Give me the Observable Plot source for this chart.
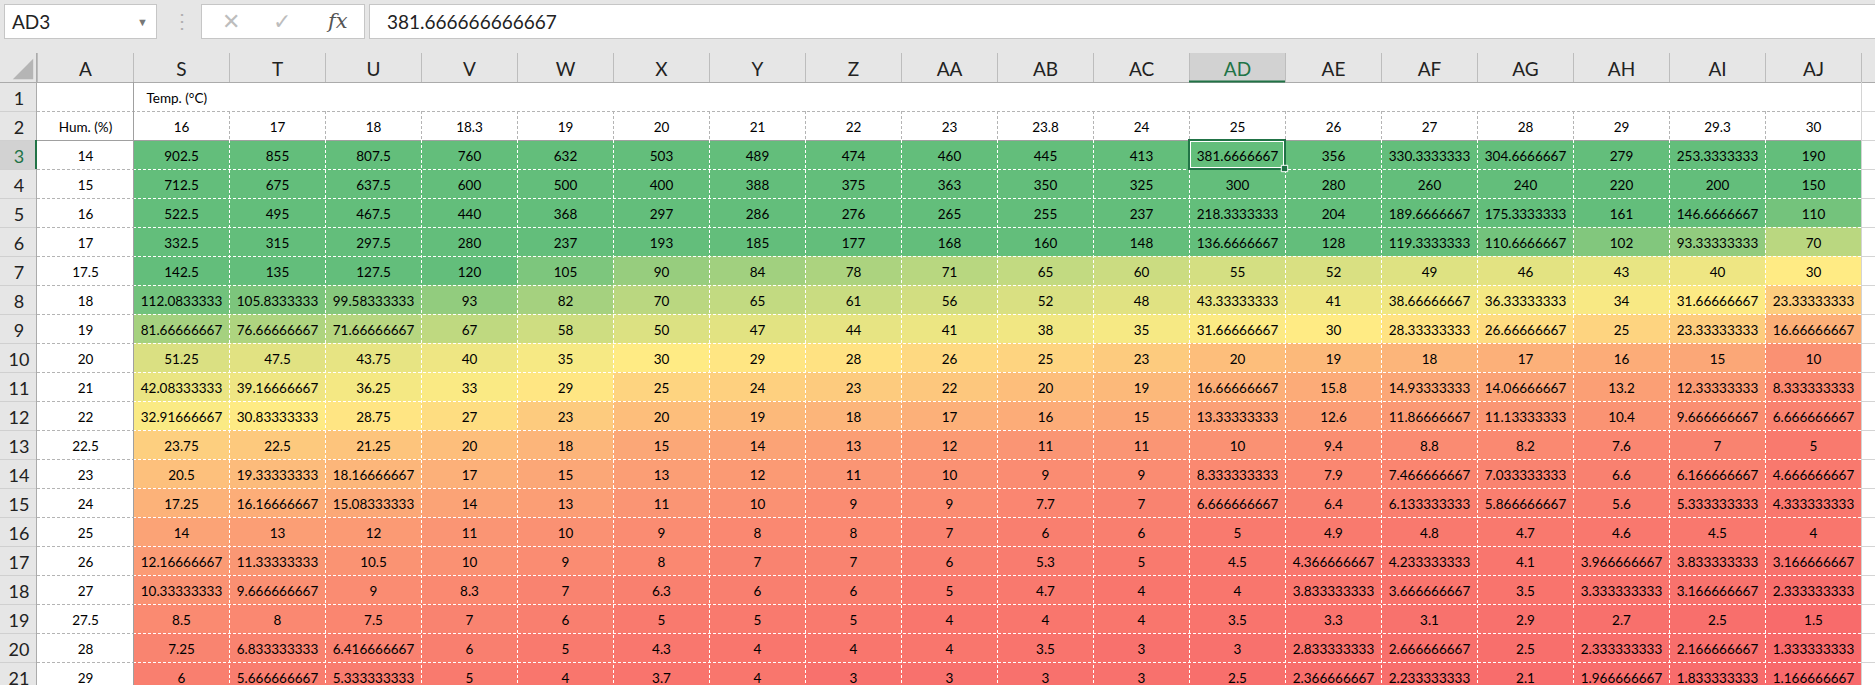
<!DOCTYPE html>
<html>
<head>
<meta charset="utf-8">
<script src="https://cdn.jsdelivr.net/npm/d3@7"></script>
<script src="https://cdn.jsdelivr.net/npm/@observablehq/plot@0.6"></script>
<style>
  html, body { margin: 0; padding: 0; background: #fff; width: 1875px; height: 685px; overflow: hidden; font-family: Lato, "Open Sans", sans-serif; }
  #bar { position: relative; width: 1875px; height: 53px; background: #e6e6e6; overflow: hidden; }
  .box { position: absolute; top: 4px; height: 33px; background: #fff; border: 1px solid #c6c6c6; box-sizing: content-box; }
  .txt { position: absolute; top: 0; line-height: 33px; font-size: 19px; color: #222; white-space: pre; }
  #sheet { display: flex; width: 1875px; }
  #sheet svg { flex: none; overflow: hidden; display: block; }
</style>
</head>
<body>
<div id="bar">
  <div class="box" style="left:4px;width:151px">
    <span class="txt" id="nameBox" style="left:7px"></span>
    <span class="txt" style="left:132px;font-size:11px;color:#777">&#9660;</span>
  </div>
  <span class="txt" style="left:172px;top:4px;font-size:20px;color:#b0b0b0">&#8942;</span>
  <div class="box" style="left:201px;width:162px">
    <span class="txt" style="left:20px;font-size:22px;color:#bdbdbd;font-family:'DejaVu Sans'">&#10005;</span>
    <span class="txt" style="left:71px;font-size:22px;color:#bdbdbd;font-family:'DejaVu Sans'">&#10003;</span>
    <span class="txt" style="left:126px;font-size:21px;color:#555;font-style:italic;font-family:'DejaVu Serif',serif">fx</span>
  </div>
  <div class="box" style="left:369px;width:1520px">
    <span class="txt" id="formula" style="left:17px"></span>
  </div>
</div>
<div id="sheet"></div>
<script>
// ---------- data ----------
const colLetters = ["S","T","U","V","W","X","Y","Z","AA","AB","AC","AD","AE","AF","AG","AH","AI","AJ"];
const temps = ["16","17","18","18.3","19","20","21","22","23","23.8","24","25","26","27","28","29","29.3","30"];
const hums = ["14","15","16","17","17.5","18","19","20","21","22","22.5","23","24","25","26","27","27.5","28","29"];

const h14   = [902.5, 855, 807.5, 760, 632, 503, 489, 474, 460, 445, 413, 381.6666667, 356, 330.3333333, 304.6666667, 279, 253.3333333, 190];
const h15   = [712.5, 675, 637.5, 600, 500, 400, 388, 375, 363, 350, 325, 300, 280, 260, 240, 220, 200, 150];
const h16   = [522.5, 495, 467.5, 440, 368, 297, 286, 276, 265, 255, 237, 218.3333333, 204, 189.6666667, 175.3333333, 161, 146.6666667, 110];
const h17   = [332.5, 315, 297.5, 280, 237, 193, 185, 177, 168, 160, 148, 136.6666667, 128, 119.3333333, 110.6666667, 102, 93.33333333, 70];
const h17_5 = [142.5, 135, 127.5, 120, 105, 90, 84, 78, 71, 65, 60, 55, 52, 49, 46, 43, 40, 30];
const h18   = [112.0833333, 105.8333333, 99.58333333, 93, 82, 70, 65, 61, 56, 52, 48, 43.33333333, 41, 38.66666667, 36.33333333, 34, 31.66666667, 23.33333333];
const h19   = [81.66666667, 76.66666667, 71.66666667, 67, 58, 50, 47, 44, 41, 38, 35, 31.66666667, 30, 28.33333333, 26.66666667, 25, 23.33333333, 16.66666667];
const h20   = [51.25, 47.5, 43.75, 40, 35, 30, 29, 28, 26, 25, 23, 20, 19, 18, 17, 16, 15, 10];
const h21   = [42.08333333, 39.16666667, 36.25, 33, 29, 25, 24, 23, 22, 20, 19, 16.66666667, 15.8, 14.93333333, 14.06666667, 13.2, 12.33333333, 8.333333333];
const h22   = [32.91666667, 30.83333333, 28.75, 27, 23, 20, 19, 18, 17, 16, 15, 13.33333333, 12.6, 11.86666667, 11.13333333, 10.4, 9.666666667, 6.666666667];
const h22_5 = [23.75, 22.5, 21.25, 20, 18, 15, 14, 13, 12, 11, 11, 10, 9.4, 8.8, 8.2, 7.6, 7, 5];
const h23   = [20.5, 19.33333333, 18.16666667, 17, 15, 13, 12, 11, 10, 9, 9, 8.333333333, 7.9, 7.466666667, 7.033333333, 6.6, 6.166666667, 4.666666667];
const h24   = [17.25, 16.16666667, 15.08333333, 14, 13, 11, 10, 9, 9, 7.7, 7, 6.666666667, 6.4, 6.133333333, 5.866666667, 5.6, 5.333333333, 4.333333333];
const h25   = [14, 13, 12, 11, 10, 9, 8, 8, 7, 6, 6, 5, 4.9, 4.8, 4.7, 4.6, 4.5, 4];
const h26   = [12.16666667, 11.33333333, 10.5, 10, 9, 8, 7, 7, 6, 5.3, 5, 4.5, 4.366666667, 4.233333333, 4.1, 3.966666667, 3.833333333, 3.166666667];
const h27   = [10.33333333, 9.666666667, 9, 8.3, 7, 6.3, 6, 6, 5, 4.7, 4, 4, 3.833333333, 3.666666667, 3.5, 3.333333333, 3.166666667, 2.333333333];
const h27_5 = [8.5, 8, 7.5, 7, 6, 5, 5, 5, 4, 4, 4, 3.5, 3.3, 3.1, 2.9, 2.7, 2.5, 1.5];
const h28   = [7.25, 6.833333333, 6.416666667, 6, 5, 4.3, 4, 4, 4, 3.5, 3, 3, 2.833333333, 2.666666667, 2.5, 2.333333333, 2.166666667, 1.333333333];
const h29   = [6, 5.666666667, 5.333333333, 5, 4, 3.7, 4, 3, 3, 3, 3, 2.5, 2.366666667, 2.233333333, 2.1, 1.966666667, 1.833333333, 1.166666667];

const valueRows = [h14, h15, h16, h17, h17_5, h18, h19, h20, h21, h22, h22_5, h23, h24, h25, h26, h27, h27_5, h28, h29];

const sheetRows = d3.range(1, 22);          // visible spreadsheet rows 1..21
const firstDataRow = 3;
const selectedCol = "AD";
const selectedRow = 3;
const selectedName = "AD3";
const selectedFormula = "381.666666666667";
const rowTitle = "Hum. (%)";
const colTitle = "Temp. (°C)";

// ---------- derived tables ----------
const cells = valueRows.flatMap((vals, i) => vals.map((v, j) => ({col: colLetters[j], row: firstDataRow + i, v})));
const humCells = hums.map((h, i) => ({row: firstDataRow + i, label: h}));
const tempCells = temps.map((t, j) => ({col: colLetters[j], label: t}));
const xDomain = ["A", ...colLetters, "AK"];
const yDomain = ["hdr", ...sheetRows];
const colW = 96, rowH = 29;
const minV = d3.min(cells, d => d.v);

document.getElementById("nameBox").textContent = selectedName;
document.getElementById("formula").textContent = selectedFormula;

const yScale = {type: "band", domain: yDomain, range: [0, rowH * yDomain.length], padding: 0, axis: null};
const font = "Lato, 'Open Sans', sans-serif";
const grayDash = "3,2";

// ---------- row-header strip ----------
const cornerSymbol = {
  draw(ctx, size) {
    const s = Math.sqrt(size);
    ctx.moveTo(s / 2, -s / 2);
    ctx.lineTo(s / 2, s / 2);
    ctx.lineTo(-s / 2, s / 2);
    ctx.closePath();
  }
};

const left = Plot.plot({
  width: 37, height: 632, margin: 0,
  style: {fontFamily: font, background: "#e6e6e6"},
  x: {type: "band", domain: ["#"], range: [0, 37], padding: 0, axis: null},
  y: yScale,
  marks: [
    Plot.cell(yDomain, {x: () => "#", y: d => d, fill: "#e6e6e6"}),
    Plot.cell([selectedRow], {x: () => "#", y: d => d, fill: "#d2d2d2"}),
    Plot.ruleY(sheetRows.slice(1), {y: d => d, dy: -rowH / 2, stroke: "#d0d0d0"}),
    Plot.ruleY([1], {y: d => d, dy: -rowH / 2, stroke: "#ababab"}),
    Plot.ruleX(["#"], {x: d => d, dx: 17.5, stroke: "#ababab"}),
    Plot.ruleX(["#"], {x: d => d, y1: () => selectedRow, y2: () => selectedRow, dx: 17, stroke: "#217346", strokeWidth: 2}),
    Plot.dot(["hdr"], {x: () => "#", y: d => d, symbol: cornerSymbol, r: 11.5, fill: "#b5b5b5", stroke: "none", dx: 4, dy: 1}),
    Plot.text(sheetRows.filter(r => r !== selectedRow), {x: () => "#", y: d => d, text: d => String(d), fontSize: 18, fill: "#222", dy: 2}),
    Plot.text([selectedRow], {x: () => "#", y: d => d, text: d => String(d), fontSize: 18, fill: "#217346", dy: 2})
  ]
});

// ---------- sheet ----------
const main = Plot.plot({
  width: 1838, height: 632, margin: 0,
  style: {fontFamily: font, background: "white"},
  x: {type: "band", domain: xDomain, range: [0, colW * xDomain.length], padding: 0, axis: null},
  y: yScale,
  color: {type: "linear", domain: [minV, 30, 120], range: ["#F8696B", "#FFEB84", "#63BE7B"], clamp: true},
  marks: [
    // column header band
    Plot.cell(xDomain, {x: d => d, y: () => "hdr", fill: "#e6e6e6"}),
    Plot.cell([selectedCol], {x: d => d, y: () => "hdr", fill: "#d2d2d2"}),
    Plot.ruleX(xDomain, {x: d => d, y1: () => "hdr", y2: () => "hdr", dx: -colW / 2, stroke: "#bdbdbd"}),
    Plot.ruleY([1], {y: d => d, dy: -rowH / 2, x1: () => "A", x2: () => "AK", stroke: "#ababab"}),
    Plot.ruleY([selectedCol], {y: () => "hdr", x1: d => d, x2: d => d, dy: rowH / 2 - 1, stroke: "#217346", strokeWidth: 2}),
    Plot.text(colLetters.concat(["A"]).filter(c => c !== selectedCol), {x: d => d, y: () => "hdr", text: d => d, fontSize: 19, fill: "#222", dy: 2}),
    Plot.text([selectedCol], {x: d => d, y: () => "hdr", text: d => d, fontSize: 19, fill: "#217346", dy: 2}),

    // heat-map cells
    Plot.cell(cells, {x: "col", y: "row", fill: "v"}),

    // grid lines
    Plot.ruleY([2], {y: d => d, dy: -rowH / 2, x1: () => "A", x2: () => "AJ", stroke: "#b4b4b4", strokeDasharray: grayDash}),
    Plot.ruleY([3], {y: d => d, dy: -rowH / 2, x1: () => "A", x2: () => "AJ", stroke: "#a0a0a0"}),
    Plot.ruleY(d3.range(4, 22), {y: d => d, dy: -rowH / 2, x1: () => "A", x2: () => "A", stroke: "#b4b4b4", strokeDasharray: grayDash}),
    Plot.ruleY(d3.range(4, 22), {y: d => d, dy: -rowH / 2, x1: () => "S", x2: () => "AJ", stroke: "white", strokeDasharray: grayDash}),
    Plot.ruleX(colLetters.slice(1), {x: d => d, y1: () => 2, y2: () => 2, dx: -colW / 2, stroke: "#b4b4b4", strokeDasharray: grayDash}),
    Plot.ruleX(colLetters.slice(1), {x: d => d, y1: () => 3, y2: () => 21, dx: -colW / 2, stroke: "white", strokeDasharray: grayDash}),
    Plot.ruleX(["S"], {x: d => d, y1: () => 1, y2: () => 21, dx: -colW / 2, stroke: "#a0a0a0"}),
    Plot.ruleX(["AK"], {x: d => d, y1: () => 1, y2: () => 21, dx: -colW / 2, stroke: "#d4d4d4"}),
    Plot.ruleY(d3.range(2, 22), {y: d => d, dy: -rowH / 2, x1: () => "AK", x2: () => "AK", stroke: "#d4d4d4"}),

    // labels
    Plot.text([colTitle], {x: () => "S", y: () => 1, text: d => d, textAnchor: "start", dx: -colW / 2 + 13, fontSize: 13.5, fill: "#000", dy: 1.5}),
    Plot.text([rowTitle], {x: () => "A", y: () => 2, text: d => d, fontSize: 13.5, fill: "#000", dy: 1.5}),
    Plot.text(tempCells, {x: "col", y: () => 2, text: "label", fontSize: 13.5, fill: "#000", dy: 1.5}),
    Plot.text(humCells, {x: () => "A", y: "row", text: "label", fontSize: 13.5, fill: "#000", dy: 1.5}),
    Plot.text(cells, {x: "col", y: "row", text: d => String(d.v), fontSize: 13.5, fill: "#000", dy: 1.5}),

    // active cell
    Plot.cell([{col: selectedCol, row: selectedRow}], {x: "col", y: "row", fill: "none", stroke: "#217346", strokeWidth: 2}),
    Plot.cell([{col: selectedCol, row: selectedRow}], {x: "col", y: "row", fill: "none", stroke: "white", strokeWidth: 1, inset: 1.5}),
    Plot.dot([{col: selectedCol, row: selectedRow}], {x: "col", y: "row", dx: colW / 2 - 1, dy: rowH / 2 - 1, symbol: "square", r: 3.6, fill: "#217346", stroke: "white", strokeWidth: 1})
  ]
});

const sheet = document.getElementById("sheet");
sheet.appendChild(left);
sheet.appendChild(main);
</script>
</body>
</html>
